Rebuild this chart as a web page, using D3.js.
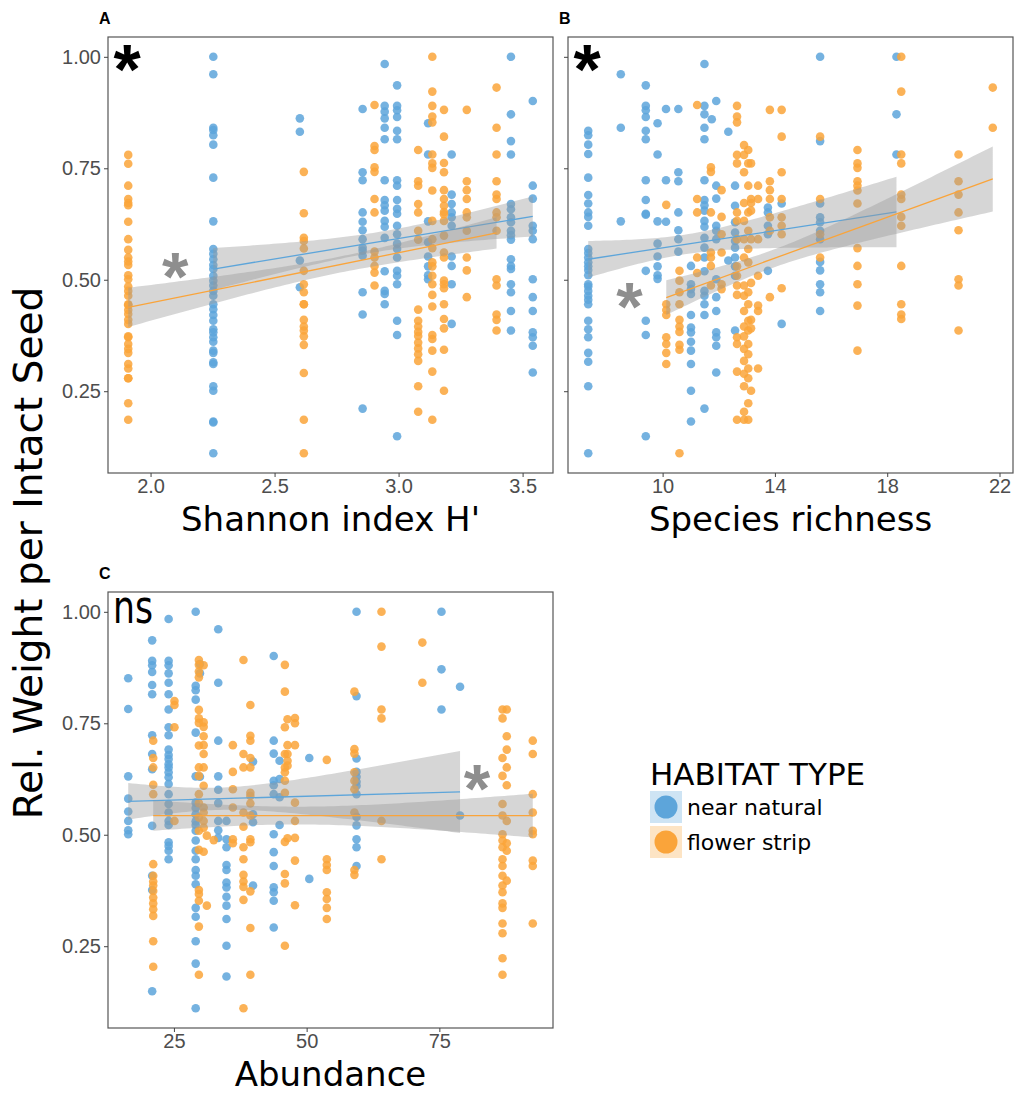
<!DOCTYPE html>
<html>
<head>
<meta charset="utf-8">
<script src="https://cdn.jsdelivr.net/npm/d3@7"></script>
<style>
  body { margin: 0; background: #fff; }
</style>
</head>
<body>
<svg id="chart" width="1016" height="1094"></svg>
<script>
// ---- data (columns of sites: x value, and the seed values read at that x) ----
var habitats = ["near natural", "flower strip"];

var shannonNear = [
  {x: 2.253, y: [1.0,0.961,0.841,0.836,0.824,0.803,0.729,0.631,0.569,0.558,0.546,0.533,0.524,0.509,0.498,0.487,0.475,0.464,0.445,0.434,0.421,0.408,0.389,0.382,0.371,0.361,0.341,0.336,0.315,0.311,0.261,0.251,0.182,0.180,0.111]},
  {x: 2.602, y: [0.862,0.832,0.543,0.483]},
  {x: 2.855, y: [0.883,0.741,0.723,0.651,0.630,0.611,0.591,0.572,0.565,0.554,0.472,0.422,0.211]},
  {x: 2.944, y: [0.984,0.890,0.877,0.862,0.841,0.815,0.723,0.679,0.667,0.655,0.632,0.619,0.594,0.519,0.475,0.468,0.445]},
  {x: 2.994, y: [0.936,0.890,0.880,0.865,0.834,0.815,0.723,0.711,0.679,0.659,0.648,0.621,0.602,0.581,0.569,0.550,0.520,0.509,0.490,0.408,0.376,0.149]},
  {x: 3.119, y: [0.851,0.781,0.631,0.584,0.552,0.530,0.510,0.501]},
  {x: 3.214, y: [0.781,0.691,0.670,0.651,0.640,0.621,0.552,0.531,0.490,0.401]},
  {x: 3.453, y: [1.0,0.871,0.811,0.781,0.670,0.658,0.640,0.629,0.610,0.600,0.590,0.546,0.531,0.524,0.490,0.472,0.430,0.386]},
  {x: 3.541, y: [0.901,0.711,0.682,0.621,0.610,0.591,0.501,0.461,0.430,0.382,0.371,0.352,0.292]}
];
var shannonFlower = [
  {x: 1.91, y: [0.780,0.760,0.711,0.681,0.672,0.667,0.630,0.591,0.567,0.550,0.541,0.533,0.510,0.501,0.485,0.475,0.464,0.445,0.443,0.432,0.423,0.410,0.401,0.373,0.371,0.356,0.345,0.336,0.311,0.301,0.279,0.279,0.223,0.186]},
  {x: 2.618, y: [0.742,0.649,0.594,0.587,0.570,0.520,0.490,0.472,0.445,0.445,0.410,0.395,0.386,0.373,0.354,0.291,0.186,0.111]},
  {x: 2.903, y: [0.892,0.800,0.791,0.752,0.742,0.681,0.651,0.563,0.550,0.531,0.516,0.487]},
  {x: 3.079, y: [0.791,0.721,0.711,0.670,0.651,0.610,0.590,0.433,0.408,0.395,0.383,0.374,0.359,0.346,0.333,0.318,0.261,0.204]},
  {x: 3.136, y: [1.0,0.922,0.890,0.866,0.853,0.781,0.761,0.751,0.700,0.632,0.591,0.571,0.539,0.530,0.509,0.490,0.466,0.440,0.376,0.367,0.341,0.294,0.186]},
  {x: 3.183, y: [0.881,0.821,0.762,0.741,0.701,0.681,0.666,0.652,0.647,0.632,0.599,0.561,0.550,0.498,0.490,0.481,0.445,0.412,0.391,0.343,0.251]},
  {x: 3.275, y: [0.881,0.721,0.701,0.681,0.651,0.640,0.610,0.550,0.521,0.461]},
  {x: 3.395, y: [0.931,0.841,0.781,0.721,0.691,0.681,0.651,0.640,0.610,0.501,0.487,0.422,0.410,0.386]}
];

var richnessNear = [
  {x: 7.35, y: [0.834,0.824,0.803,0.782,0.729,0.690,0.671,0.651,0.641,0.621,0.569,0.560,0.550,0.539,0.530,0.522,0.510,0.490,0.485,0.475,0.464,0.455,0.445,0.408,0.389,0.371,0.336,0.316,0.261,0.111]},
  {x: 8.51, y: [0.961,0.841,0.631]},
  {x: 9.40, y: [0.936,0.890,0.880,0.865,0.834,0.815,0.723,0.679,0.648,0.646,0.520,0.408,0.376,0.149]},
  {x: 9.82, y: [0.851,0.781,0.631,0.581,0.552,0.530,0.510,0.502]},
  {x: 10.12, y: [0.883,0.723,0.630]},
  {x: 10.56, y: [0.883,0.741,0.721,0.651,0.611,0.591,0.563]},
  {x: 11.01, y: [0.531,0.490,0.479,0.468,0.421,0.393,0.382,0.361,0.341,0.311,0.251,0.182]},
  {x: 11.49, y: [0.984,0.890,0.871,0.841,0.815,0.723,0.679,0.667,0.655,0.632,0.619,0.594,0.572,0.550,0.519,0.475,0.464,0.445,0.421,0.211]},
  {x: 11.75, y: [0.860]},
  {x: 11.91, y: [0.901,0.711,0.682,0.621,0.610,0.591,0.501,0.461,0.430,0.382,0.371,0.352,0.292]},
  {x: 12.34, y: [0.832,0.543]},
  {x: 12.58, y: [0.711,0.666,0.629,0.606,0.587,0.572,0.550,0.530,0.509,0.386]},
  {x: 13.75, y: [0.662,0.651,0.621,0.602,0.520]},
  {x: 14.24, y: [0.671,0.401]},
  {x: 15.61, y: [1.0,0.811,0.671,0.640,0.629,0.610,0.591,0.540,0.521,0.490,0.472,0.430]},
  {x: 18.33, y: [1.0,0.871,0.781]}
];
var richnessFlower = [
  {x: 10.13, y: [0.668,0.445,0.432,0.421,0.371,0.356,0.336,0.311]},
  {x: 10.6, y: [0.520,0.498,0.472,0.445,0.410,0.395,0.383,0.354,0.343,0.111]},
  {x: 11.23, y: [0.892,0.681,0.651,0.550,0.515]},
  {x: 11.72, y: [0.752,0.742,0.651,0.561,0.550,0.531,0.487]},
  {x: 12.1, y: [0.701,0.641,0.602,0.561,0.490,0.479]},
  {x: 12.65, y: [0.890,0.866,0.853,0.780,0.761,0.651,0.632,0.591,0.530,0.509,0.487,0.466,0.371,0.356,0.294,0.186]},
  {x: 12.9, y: [0.802,0.780,0.741,0.672,0.632,0.591,0.550,0.487,0.464,0.430,0.395,0.373,0.345,0.318,0.289,0.261,0.204,0.186]},
  {x: 13.05, y: [0.791,0.761,0.711,0.651,0.610,0.569,0.539,0.472,0.445,0.408,0.386,0.356,0.333,0.301,0.279,0.223,0.186]},
  {x: 13.15, y: [0.761,0.681,0.672,0.655,0.591,0.493,0.410,0.391,0.251]},
  {x: 13.4, y: [0.711,0.681,0.591,0.509,0.442,0.430,0.301]},
  {x: 13.82, y: [0.881,0.721,0.701,0.681,0.640,0.610,0.461]},
  {x: 14.24, y: [0.881,0.821,0.741,0.681,0.640,0.621,0.602,0.481]},
  {x: 15.61, y: [0.821,0.681,0.602,0.550]},
  {x: 16.94, y: [0.791,0.761,0.751,0.721,0.711,0.700,0.671,0.571,0.531,0.490,0.442,0.341]},
  {x: 18.5, y: [1.0,0.922,0.781,0.761,0.691,0.681,0.641,0.621,0.531,0.445,0.422,0.412]},
  {x: 20.54, y: [0.781,0.721,0.691,0.651,0.611,0.501,0.487,0.386]},
  {x: 21.76, y: [0.931,0.841]}
];

var abundanceNear = [
  {x: 16.39, y: [0.851,0.782,0.631,0.581,0.552,0.531,0.510,0.501]},
  {x: 20.9, y: [0.936,0.890,0.880,0.865,0.836,0.815,0.723,0.681,0.647,0.520,0.408,0.376,0.149]},
  {x: 24.0, y: [0.984,0.890,0.880,0.862,0.841,0.815,0.781,0.741,0.723,0.691,0.679,0.670,0.658,0.651,0.640,0.629,0.614,0.591,0.569,0.550,0.531,0.522,0.483,0.475,0.464,0.445]},
  {x: 29.1, y: [1.0,0.834,0.824,0.803,0.729,0.631,0.572,0.560,0.546,0.530,0.522,0.509,0.487,0.464,0.445,0.421,0.408,0.389,0.336,0.316,0.261,0.211,0.111]},
  {x: 29.9, y: [0.883,0.862,0.630]},
  {x: 33.35, y: [0.961,0.841,0.711,0.631,0.601,0.571,0.531,0.510,0.493]},
  {x: 34.9, y: [0.531,0.490,0.472,0.432,0.421,0.393,0.382,0.361,0.341,0.311,0.251,0.182]},
  {x: 39.9, y: [0.664,0.546,0.528,0.386]},
  {x: 43.8, y: [0.901,0.711,0.682,0.621,0.611,0.591,0.501,0.461,0.430,0.382,0.371,0.352,0.292]},
  {x: 44.9, y: [0.666,0.625,0.584,0.522]},
  {x: 50.5, y: [0.672,0.401]},
  {x: 59.4, y: [1.0,0.811,0.671,0.641,0.630,0.619,0.610,0.591,0.540,0.521,0.490,0.472,0.430]},
  {x: 75.4, y: [1.0,0.871,0.781]},
  {x: 78.9, y: [0.832,0.543]}
];
var abundanceFlower = [
  {x: 21.1, y: [0.711,0.672,0.651,0.612,0.591,0.434,0.408,0.395,0.386,0.374,0.359,0.346,0.333,0.318,0.261,0.204]},
  {x: 25.1, y: [0.800,0.791,0.741,0.531]},
  {x: 29.7, y: [0.892,0.881,0.866,0.853,0.780,0.761,0.751,0.700,0.651,0.632,0.591,0.571,0.539,0.509,0.466,0.376,0.367,0.352,0.294,0.186]},
  {x: 30.6, y: [0.880,0.752,0.742,0.721,0.701,0.681,0.651,0.610,0.561,0.550,0.531,0.516,0.462]},
  {x: 31.2, y: [0.498,0.341]},
  {x: 32.5, y: [0.488]},
  {x: 36.1, y: [0.701,0.641,0.602,0.561,0.490,0.481]},
  {x: 38.1, y: [0.892,0.681,0.651,0.550,0.518,0.472,0.445,0.410,0.395,0.383,0.354,0.111]},
  {x: 39.4, y: [0.791,0.722,0.711,0.672,0.651,0.594,0.587,0.570,0.543,0.490,0.483,0.373,0.291,0.186]},
  {x: 45.9, y: [0.881,0.821,0.741,0.681,0.651,0.640,0.621,0.594,0.484,0.412,0.391,0.251]},
  {x: 46.4, y: [0.759,0.701,0.681,0.666,0.655,0.492]},
  {x: 47.8, y: [0.762,0.750,0.701,0.572,0.531,0.493,0.442,0.342]},
  {x: 53.8, y: [0.668,0.445,0.432,0.421,0.371,0.356,0.336,0.311]},
  {x: 59.0, y: [0.821,0.692,0.682,0.640,0.621,0.602,0.550,0.421,0.410]},
  {x: 64.1, y: [1.0,0.922,0.781,0.761,0.531,0.445]},
  {x: 71.8, y: [0.931,0.841]},
  {x: 86.9, y: [0.781,0.761,0.672,0.632,0.569,0.543,0.501,0.487,0.472,0.445,0.430,0.408,0.386,0.371,0.346,0.336,0.301,0.279,0.223,0.186]},
  {x: 87.7, y: [0.781,0.721,0.691,0.651,0.611,0.531,0.481,0.464,0.397]},
  {x: 92.6, y: [0.711,0.681,0.591,0.550,0.509,0.501,0.442,0.430,0.301]}
];

// linear fits: ends of the line, CI half widths at the ends and the narrowest
var shannonFit = [
  {x0: 2.253, x1: 3.541, y0: 0.524, y1: 0.642, h0: 0.047, h1: 0.045, hmin: 0.022},
  {x0: 1.91,  x1: 3.395, y0: 0.438, y1: 0.605, h0: 0.044, h1: 0.035, hmin: 0.018}
];
var richnessFit = [
  {x0: 7.35,  x1: 18.33, y0: 0.546, y1: 0.652, h0: 0.041, h1: 0.079, hmin: 0.022},
  {x0: 10.13, x1: 21.76, y0: 0.460, y1: 0.726, h0: 0.039, h1: 0.073, hmin: 0.020}
];
var abundanceFit = [
  {x0: 16.39, x1: 78.9, y0: 0.575, y1: 0.596, h0: 0.041, h1: 0.092, hmin: 0.025},
  {x0: 21.1,  x1: 92.6, y0: 0.543, y1: 0.543, h0: 0.034, h1: 0.049, hmin: 0.020}
];

var yTicks = [0.25, 0.50, 0.75, 1.00];
var shannonTicks = [2.0, 2.5, 3.0, 3.5];
var richnessTicks = [10, 14, 18, 22];
var abundanceTicks = [25, 50, 75];

// ---- drawing ----
var colors = ["#5DA5DA", "#FAA43A"];
var svg = d3.select("#chart");
var tickFont = "'Liberation Sans', Arial, sans-serif";
var titleFont = "'DejaVu Sans', Verdana, sans-serif";

function expand(ext)
{
  var r = ext[1] - ext[0];
  return [ext[0] - 0.05 * r, ext[1] + 0.05 * r];
}

function drawPanel(p)
{
  var g = svg.append("g").attr("transform", `translate(${p.box.x},${p.box.y})`);
  var groups = [p.near, p.flower];

  var allX = d3.merge(groups.map(s => s.map(c => c.x)));
  var allY = d3.merge(d3.merge(groups.map(s => s.map(c => c.y))));

  var x = d3.scaleLinear().domain(expand(d3.extent(allX))).range([0, p.box.w]);
  var y = d3.scaleLinear().domain(expand(d3.extent(allY))).range([p.box.h, 0]);

  // points
  groups.forEach(function(series, gi)
  {
    var pts = d3.merge(series.map(c => c.y.map(v => ({x: c.x, y: v}))));
    g.append("g")
      .selectAll("circle")
      .data(pts)
      .join("circle")
        .attr("cx", d => x(d.x))
        .attr("cy", d => y(d.y))
        .attr("r", 4.3)
        .attr("fill", colors[gi])
        .attr("fill-opacity", 0.85);
  });

  // smooths (ribbon then line, per group)
  p.fit.forEach(function(f, gi)
  {
    var a = f.hmin;
    var b = (Math.sqrt(f.h0 * f.h0 - a * a) + Math.sqrt(f.h1 * f.h1 - a * a)) / (f.x1 - f.x0);
    var xm = f.x0 + Math.sqrt(f.h0 * f.h0 - a * a) / b;
    var fitY = v => f.y0 + (f.y1 - f.y0) * (v - f.x0) / (f.x1 - f.x0);
    var half = v => Math.sqrt(a * a + b * b * (v - xm) * (v - xm));
    var xs = d3.range(0, 81).map(i => f.x0 + (f.x1 - f.x0) * i / 80);

    g.append("path")
      .datum(xs)
      .attr("d", d3.area().x(v => x(v)).y0(v => y(fitY(v) - half(v))).y1(v => y(fitY(v) + half(v))))
      .attr("fill", "#999999")
      .attr("fill-opacity", 0.4);

    g.append("path")
      .datum([f.x0, f.x1])
      .attr("d", d3.line().x(v => x(v)).y(v => y(fitY(v))))
      .attr("stroke", colors[gi])
      .attr("stroke-width", 1.3)
      .attr("fill", "none");
  });

  // border
  g.append("rect")
    .attr("width", p.box.w)
    .attr("height", p.box.h)
    .attr("fill", "none")
    .attr("stroke", "#555")
    .attr("stroke-width", 1.2);

  // axes
  var yAxis = d3.axisLeft(y).tickValues(yTicks).tickSize(4).tickPadding(3)
    .tickFormat(p.yLabels ? d3.format(".2f") : "");
  var xAxis = d3.axisBottom(x).tickValues(p.ticks).tickSize(4).tickPadding(2)
    .tickFormat(p.fmt);

  [g.append("g").call(yAxis),
   g.append("g").attr("transform", `translate(0,${p.box.h})`).call(xAxis)].forEach(function(ax)
  {
    ax.select(".domain").remove();
    ax.selectAll(".tick line").attr("stroke", "#444");
    ax.selectAll(".tick text")
      .attr("fill", "#4d4d4d")
      .style("font-family", tickFont)
      .style("font-size", "20px");
  });

  // x title
  g.append("text")
    .attr("x", p.box.w / 2)
    .attr("y", p.box.h + 58)
    .attr("text-anchor", "middle")
    .style("font-family", titleFont)
    .style("font-size", "34px")
    .text(p.title);

  // panel letter
  svg.append("text")
    .attr("x", p.box.x - 9)
    .attr("y", p.box.y - 13)
    .style("font-family", tickFont)
    .style("font-weight", "bold")
    .style("font-size", "16px")
    .text(p.id);

  // significance marks
  if (p.mark == "ns")
  {
    g.append("text")
      .attr("x", 5)
      .attr("y", 31)
      .attr("textLength", 40)
      .attr("lengthAdjust", "spacingAndGlyphs")
      .style("font-family", titleFont)
      .style("font-size", "46px")
      .text("ns");
  }
  else
  {
    g.append("text")
      .attr("x", 19)
      .attr("y", 18 + 0.56 * 70)
      .attr("text-anchor", "middle")
      .style("font-family", tickFont)
      .style("font-weight", "bold")
      .style("font-size", "70px")
      .text("*");
  }

  g.append("text")
    .attr("x", x(p.star[0]))
    .attr("y", y(p.star[1]) + 0.56 * 68)
    .attr("text-anchor", "middle")
    .attr("fill", "#8e8e8e")
    .style("font-family", tickFont)
    .style("font-weight", "bold")
    .style("font-size", "68px")
    .text("*");
}

var panels = [
  {id: "A", near: shannonNear, flower: shannonFlower, fit: shannonFit, ticks: shannonTicks,
   fmt: d3.format(".1f"), title: "Shannon index H'", yLabels: true, mark: "*", star: [2.10, 0.54],
   box: {x: 108, y: 37, w: 445, h: 436}},
  {id: "B", near: richnessNear, flower: richnessFlower, fit: richnessFit, ticks: richnessTicks,
   fmt: d3.format("d"), title: "Species richness", yLabels: false, mark: "*", star: [8.82, 0.472],
   box: {x: 568, y: 37, w: 445, h: 436}},
  {id: "C", near: abundanceNear, flower: abundanceFlower, fit: abundanceFit, ticks: abundanceTicks,
   fmt: d3.format("d"), title: "Abundance", yLabels: true, mark: "ns", star: [82.1, 0.636],
   box: {x: 108, y: 592, w: 445, h: 436}}
];

panels.forEach(drawPanel);

// shared y title
svg.append("text")
  .attr("transform", "translate(42,553) rotate(-90)")
  .attr("text-anchor", "middle")
  .style("font-family", titleFont)
  .style("font-size", "39px")
  .text("Rel. Weight per Intact Seed");

// legend
var legend = svg.append("g").attr("transform", "translate(650,785)");
legend.append("text")
  .style("font-family", titleFont)
  .style("font-size", "31px")
  .text("HABITAT TYPE");

var keys = legend.selectAll("g.key")
  .data(habitats)
  .join("g")
    .attr("class", "key")
    .attr("transform", (d, i) => `translate(0,${6 + i * 35})`);

keys.append("rect")
  .attr("width", 32)
  .attr("height", 32)
  .attr("fill", (d, i) => colors[i])
  .attr("fill-opacity", 0.3);

keys.append("circle")
  .attr("cx", 16)
  .attr("cy", 16)
  .attr("r", 11.5)
  .attr("fill", (d, i) => colors[i]);

keys.append("text")
  .attr("x", 37)
  .attr("y", 24)
  .style("font-family", titleFont)
  .style("font-size", "22px")
  .text(d => d);
</script>
</body>
</html>
